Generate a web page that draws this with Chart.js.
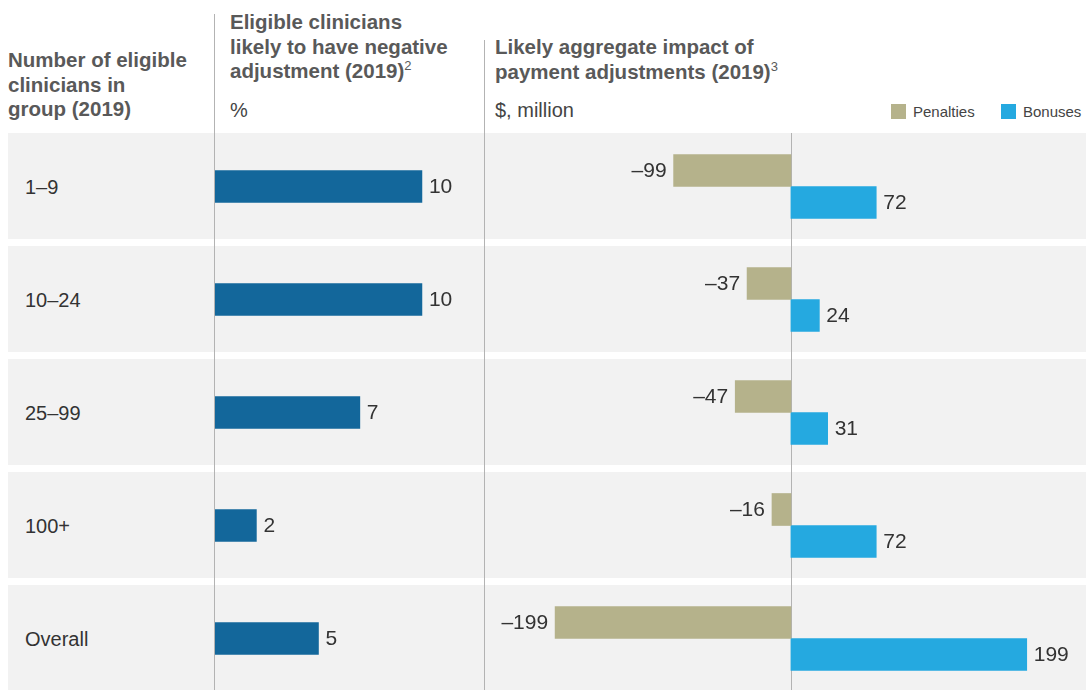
<!DOCTYPE html>
<html>
<head>
<meta charset="utf-8">
<script src="https://cdn.jsdelivr.net/npm/chart.js@4.4.1/dist/chart.umd.min.js"></script>
<style>
  html, body { margin: 0; padding: 0; background: #fff; }
  body { width: 1086px; height: 690px; overflow: hidden; position: relative;
         font-family: "Liberation Sans", Arial, Helvetica, sans-serif; color: #333; }
  .band { position: absolute; left: 8px; right: 0; height: 106px; background: #f2f2f2; }
  .vline { position: absolute; width: 1px; background: #b3b3b3; }
  .head { position: absolute; font-weight: bold; font-size: 20.5px; line-height: 24.5px; color: #595959; white-space: nowrap; }
  .head sup { font-weight: normal; font-size: 13px; vertical-align: 8px; line-height: 0; }
  .unit { position: absolute; font-size: 20px; color: #444; }
  .rowlab { position: absolute; left: 25px; font-size: 20px; color: #333; transform: translateY(-50%); }
  .legend { position: absolute; top: 103px; font-size: 15px; color: #444; display: flex; align-items: center; }
  .legend i { display: inline-block; width: 15px; height: 15px; margin-right: 7px; }
  .chartbox { position: absolute; top: 130px; height: 565px; }
</style>
</head>
<body>
<div id="bands"></div>

<div class="vline" style="left:214px; top:14px; height:676px;"></div>
<div class="vline" style="left:484px; top:40px; height:650px;"></div>

<div class="head" style="left:8px; top:48px;">Number of eligible<br>clinicians in<br>group (2019)</div>
<div class="head" style="left:230px; top:10px;">Eligible clinicians<br>likely to have negative<br>adjustment (2019)<sup>2</sup></div>
<div class="head" style="left:495px; top:35px;">Likely aggregate impact of<br>payment adjustments (2019)<sup>3</sup></div>
<div class="unit" style="left:230px; top:99px;">%</div>
<div class="unit" style="left:495px; top:99px;">$, million</div>

<div class="legend" style="left:891px;"><i style="background:#b5b28b"></i>Penalties</div>
<div class="legend" style="left:1001px;"><i style="background:#25a9e0"></i>Bonuses</div>

<div id="rowlabels"></div>

<div class="chartbox" style="left:215px; width:269px;"><canvas id="leftChart"></canvas></div>
<div class="chartbox" style="left:484px; width:602px;"><canvas id="rightChart"></canvas></div>

<script>
// ── data ──
const groups    = ['1–9', '10–24', '25–99', '100+', 'Overall'];
const negShare  = [10, 10, 7, 2, 5];          // % likely to have negative adjustment
const penalties = [-99, -37, -47, -16, -199]; // $ million
const bonuses   = [72, 24, 31, 72, 199];      // $ million

const BAND_TOP = 133, BAND_PITCH = 113;

// gray row bands + row labels
const bandsEl = document.getElementById('bands');
const labsEl  = document.getElementById('rowlabels');
groups.forEach((g, i) => {
  const b = document.createElement('div');
  b.className = 'band';
  b.style.top = (BAND_TOP + i * BAND_PITCH) + 'px';
  bandsEl.appendChild(b);
  const l = document.createElement('div');
  l.className = 'rowlab';
  l.style.top = (BAND_TOP + i * BAND_PITCH + 54) + 'px';
  l.textContent = g;
  labsEl.appendChild(l);
});

const fmt = v => v < 0 ? '\u2013' + Math.abs(v) : String(v);

const valueLabels = {
  id: 'valueLabels',
  afterDatasetsDraw(chart) {
    const ctx = chart.ctx;
    ctx.save();
    ctx.font = '21px "Liberation Sans", Arial, sans-serif';
    ctx.fillStyle = '#333';
    ctx.textBaseline = 'middle';
    chart.data.datasets.forEach((ds, di) => {
      chart.getDatasetMeta(di).data.forEach((el, i) => {
        const v = ds.data[i];
        if (v < 0) { ctx.textAlign = 'right'; ctx.fillText(fmt(v), el.x - 7, el.y + 1); }
        else       { ctx.textAlign = 'left';  ctx.fillText(fmt(v), el.x + 7, el.y + 1); }
      });
    });
    ctx.restore();
  }
};

const zeroLine = {
  id: 'zeroLine',
  beforeDatasetsDraw(chart) {
    const x = Math.round(chart.scales.x.getPixelForValue(0)) + 0.5;
    const ctx = chart.ctx;
    ctx.save();
    ctx.strokeStyle = '#b3b3b3';
    ctx.lineWidth = 1;
    ctx.beginPath();
    ctx.moveTo(x, 3);
    ctx.lineTo(x, chart.height);
    ctx.stroke();
    ctx.restore();
  }
};

const BASE = {
  indexAxis: 'y',
  responsive: true,
  maintainAspectRatio: false,
  animation: false,
  layout: { padding: 0 },
  plugins: { legend: { display: false }, tooltip: { enabled: false } },
};

new Chart(document.getElementById('leftChart'), {
  type: 'bar',
  data: {
    labels: groups,
    datasets: [{ data: negShare, backgroundColor: '#13679b', barThickness: 32 }]
  },
  options: {
    ...BASE,
    scales: {
      x: { display: false, min: 0, max: 13 },
      y: { display: false }
    }
  },
  plugins: [valueLabels]
});

new Chart(document.getElementById('rightChart'), {
  type: 'bar',
  data: {
    labels: groups,
    datasets: [
      { label: 'Penalties', data: penalties, backgroundColor: '#b5b28b', barThickness: 32 },
      { label: 'Bonuses',   data: bonuses,   backgroundColor: '#25a9e0', barThickness: 32 }
    ]
  },
  options: {
    ...BASE,
    scales: {
      x: { display: false, min: -259, max: 249 },
      y: { display: false }
    }
  },
  plugins: [zeroLine, valueLabels]
});
</script>
</body>
</html>
